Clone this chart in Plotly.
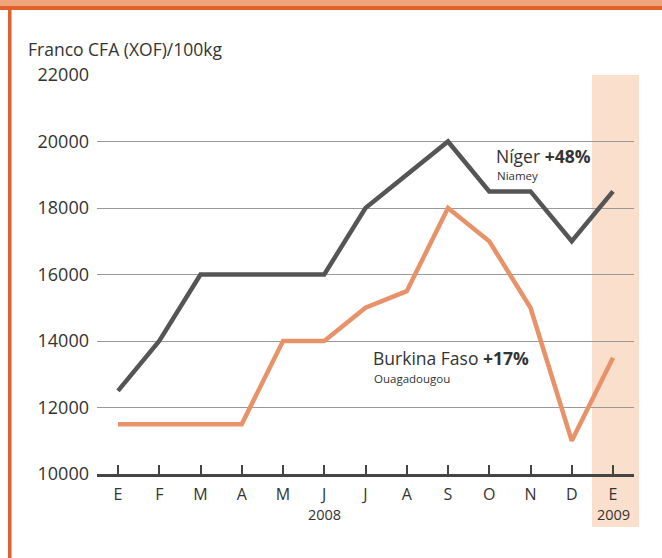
import plotly.graph_objects as go

months = ["E", "F", "M", "A", "M", "J", "J", "A", "S", "O", "N", "D", "E"]
niger = [12500, 14000, 16000, 16000, 16000, 16000, 18000, 19000, 20000, 18500, 18500, 17000, 18500]
burkina = [11500, 11500, 11500, 11500, 14000, 14000, 15000, 15500, 18000, 17000, 15000, 11000, 13500]
y_ticks = [10000, 12000, 14000, 16000, 18000, 20000, 22000]

W, H = 662, 558
L, R, T, B = 97, 634, 75, 474

def px(p):
    return (p - L) / (R - L)

def py(q):
    return (B - q) / (B - T)

xs = list(range(len(months)))
FONT = "Open Sans"
TXT = "#333333"

fig = go.Figure()
fig.add_trace(go.Scatter(x=xs, y=niger, mode="lines",
                         line=dict(color="#555555", width=4.5), hoverinfo="skip"))
fig.add_trace(go.Scatter(x=xs, y=burkina, mode="lines",
                         line=dict(color="#E8926A", width=4.5), hoverinfo="skip"))

shapes = [
    dict(type="rect", xref="paper", yref="paper", x0=px(592), x1=px(639),
         y0=py(527), y1=py(75), fillcolor="#FADFCD", line=dict(width=0), layer="below"),
    dict(type="rect", xref="paper", yref="paper", x0=px(0), x1=px(662),
         y0=py(6), y1=py(-1), fillcolor="#EFA47B", line=dict(width=0)),
    dict(type="rect", xref="paper", yref="paper", x0=px(0), x1=px(662),
         y0=py(10), y1=py(6), fillcolor="#E0612B", line=dict(width=0)),
    dict(type="rect", xref="paper", yref="paper", x0=px(8), x1=px(11.5),
         y0=py(559), y1=py(8), fillcolor="#E0612B", line=dict(width=0)),
]

def ann(text, x, y, size, xref="paper", xanchor="left"):
    return dict(text=text, xref=xref, yref="paper", x=x, y=y,
                xanchor=xanchor, yanchor="middle", showarrow=False,
                font=dict(family=FONT, size=size, color=TXT))

annotations = [
    ann("Franco CFA (XOF)/100kg", px(26), py(49), 17.5),
    ann("2008", 5, py(514), 14.5, xref="x", xanchor="center"),
    ann("2009", 12, py(514), 14.5, xref="x", xanchor="center"),
    ann("Níger <b>+48%</b>", px(494), py(156), 17.5),
    ann("Niamey", px(495), py(175), 11.5),
    ann("Burkina Faso <b>+17%</b>", px(371), py(358), 17.5),
    ann("Ouagadougou", px(372), py(378), 11.5),
]

fig.update_layout(
    width=W, height=H,
    margin=dict(l=L, r=W - R, t=T, b=H - B, pad=0),
    paper_bgcolor="white", plot_bgcolor="rgba(0,0,0,0)",
    showlegend=False,
    shapes=shapes, annotations=annotations,
    xaxis=dict(range=[(L - 118) / 41.25, (R - 118) / 41.25],
               tickmode="array", tickvals=xs, ticktext=months,
               ticks="inside", ticklen=9, tickwidth=1.5, tickcolor="#444444",
               showline=True, linecolor="#444444", linewidth=2.5,
               showgrid=False, zeroline=False, fixedrange=True,
               ticklabelstandoff=4,
               tickfont=dict(family=FONT, size=16, color=TXT)),
    yaxis=dict(range=[10000, 22000], tickmode="array", tickvals=y_ticks,
               ticktext=[str(v) for v in y_ticks],
               showgrid=True, gridcolor="#999999", gridwidth=1.2,
               zeroline=False, showline=False, ticks="", fixedrange=True,
               ticklabelstandoff=7,
               tickfont=dict(family=FONT, size=18, color=TXT)),
)

fig.write_html("out.html", config={"displayModeBar": False},
               post_script="document.body.style.margin='0';document.body.style.overflow='hidden';")
